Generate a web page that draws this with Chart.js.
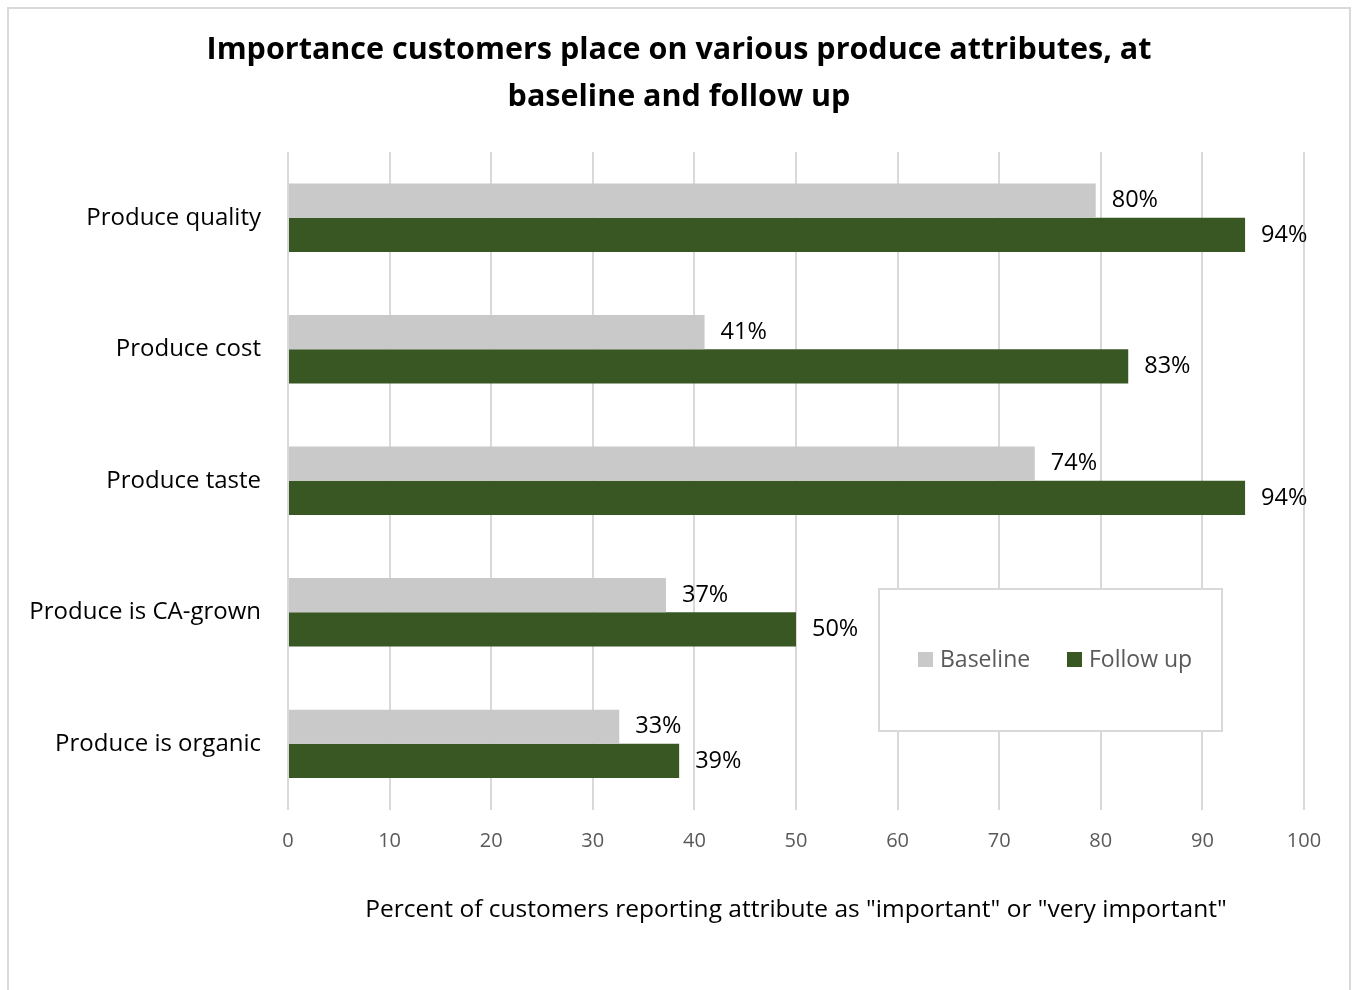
<!DOCTYPE html>
<html>
<head>
<meta charset="utf-8">
<script src="https://cdn.jsdelivr.net/npm/chart.js@4.4.0/dist/chart.umd.min.js"></script>
<style>
  html, body { margin: 0; padding: 0; background: #fff; }
  #wrap { position: relative; width: 1353px; height: 990px; }
  #frame { position: absolute; left: 7px; top: 7px; width: 1344px; height: 1000px; border: 2px solid #d9d9d9; box-sizing: border-box; }
  canvas { position: absolute; left: 0; top: 0; }
</style>
</head>
<body>
<div id="wrap">
  <div id="frame"></div>
  <canvas id="chart" width="1353" height="990"></canvas>
</div>
<script>
// chart data
const categories = ['Produce quality', 'Produce cost', 'Produce taste', 'Produce is CA-grown', 'Produce is organic'];
const baseline = [79.5, 41.0, 73.5, 37.2, 32.6];
const followUp = [94.2, 82.7, 94.2, 50.0, 38.5];
const xTicks = [0, 10, 20, 30, 40, 50, 60, 70, 80, 90, 100];
const titleLines = ['Importance customers place on various produce attributes, at', 'baseline and follow up'];

const FONT = '"Open Sans", "Liberation Sans", sans-serif';

// title, centred on the whole frame rather than the chart box
const frameTitle = {
  id: 'frameTitle',
  afterDraw(chart) {
    const ctx = chart.ctx;
    ctx.save();
    ctx.font = 'bold 30.5px ' + FONT;
    ctx.fillStyle = '#000';
    ctx.textAlign = 'center';
    ctx.textBaseline = 'middle';
    titleLines.forEach((line, i) => ctx.fillText(line, 679, 50 + i * 47));
    ctx.restore();
  }
};

// value labels at the end of each bar
const barLabels = {
  id: 'barLabels',
  afterDatasetsDraw(chart) {
    const ctx = chart.ctx;
    ctx.save();
    ctx.font = '23.5px ' + FONT;
    ctx.fillStyle = '#000';
    ctx.textAlign = 'left';
    ctx.textBaseline = 'middle';
    chart.data.datasets.forEach((ds, i) => {
      chart.getDatasetMeta(i).data.forEach((bar, j) => {
        ctx.fillText(Math.round(ds.data[j]) + '%', bar.x + 16, bar.y);
      });
    });
    ctx.restore();
  }
};

// legend box sitting inside the plot area
const boxLegend = {
  id: 'boxLegend',
  afterDraw(chart) {
    const ctx = chart.ctx;
    const x = 879, y = 589, w = 343, h = 142;
    ctx.save();
    ctx.fillStyle = '#fff';
    ctx.fillRect(x, y, w, h);
    ctx.strokeStyle = '#d9d9d9';
    ctx.lineWidth = 2;
    ctx.strokeRect(x, y, w, h);
    ctx.font = '23px ' + FONT;
    ctx.textBaseline = 'middle';
    let ix = 918;
    chart.data.datasets.forEach(ds => {
      ctx.fillStyle = ds.backgroundColor;
      ctx.fillRect(ix, 652, 15, 15);
      ctx.fillStyle = '#595959';
      ctx.fillText(ds.label, ix + 22, 660);
      ix += 149;
    });
    ctx.restore();
  }
};

new Chart(document.getElementById('chart'), {
  type: 'bar',
  data: {
    labels: categories,
    datasets: [
      { label: 'Baseline', data: baseline, backgroundColor: '#c9c9c9' },
      { label: 'Follow up', data: followUp, backgroundColor: '#385723' }
    ]
  },
  options: {
    indexAxis: 'y',
    responsive: false,
    animation: false,
    categoryPercentage: 0.52,
    barPercentage: 1.0,
    layout: { padding: { left: 18, right: 49, top: 152, bottom: 65 } },
    plugins: {
      legend: { display: false },
      tooltip: { enabled: false },
      title: { display: false }
    },
    scales: {
      x: {
        min: 0,
        max: 100,
        afterBuildTicks(scale) { scale.ticks = xTicks.map(v => ({ value: v })); },
        grid: { color: '#d9d9d9', lineWidth: 2, drawTicks: false },
        border: { display: false },
        ticks: { color: '#595959', font: { family: FONT, size: 20 }, padding: 20 },
        title: {
          display: true,
          text: 'Percent of customers reporting attribute as "important" or "very important"',
          color: '#000',
          font: { family: FONT, size: 24.5 },
          padding: { top: 22, bottom: 0 }
        }
      },
      y: {
        afterFit(scale) { scale.width = 270; },
        grid: { display: false, drawTicks: false },
        border: { display: false },
        ticks: { color: '#000', font: { family: FONT, size: 24 }, padding: 27 }
      }
    }
  },
  plugins: [frameTitle, barLabels, boxLegend]
});
</script>
</body>
</html>
